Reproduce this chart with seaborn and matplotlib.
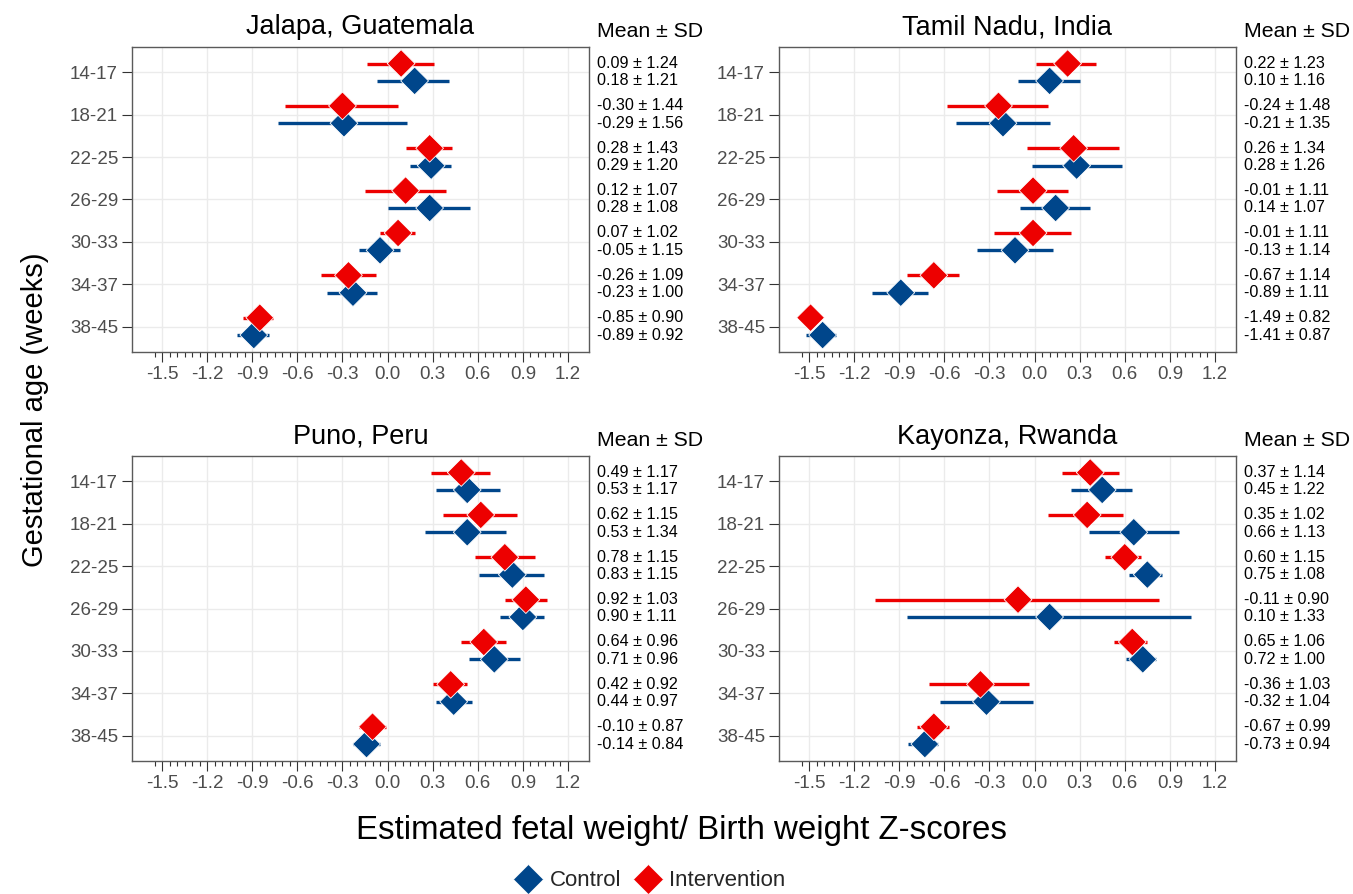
import numpy as np
import pandas as pd
import matplotlib
matplotlib.use("Agg")
import matplotlib.pyplot as plt
import matplotlib.transforms as mtransforms
from matplotlib.lines import Line2D
from matplotlib.ticker import FixedLocator
import seaborn as sns

sns.set_theme(style="white")
plt.rcParams["font.family"] = ["Liberation Sans", "DejaVu Sans"]

# ---------------- data ----------------
ages = ["14-17", "18-21", "22-25", "26-29", "30-33", "34-37", "38-45"]
sites = ["Jalapa, Guatemala", "Tamil Nadu, India", "Puno, Peru", "Kayonza, Rwanda"]
groups = ["Control", "Intervention"]

# Jalapa, Guatemala
jal_int_mean = [0.09, -0.30, 0.28, 0.12, 0.07, -0.26, -0.85]
jal_int_sd = [1.24, 1.44, 1.43, 1.07, 1.02, 1.09, 0.90]
jal_int_lo = [-0.14, -0.68, 0.12, -0.15, -0.05, -0.44, -0.96]
jal_int_hi = [0.31, 0.07, 0.43, 0.39, 0.18, -0.08, -0.76]
jal_ctl_mean = [0.18, -0.29, 0.29, 0.28, -0.05, -0.23, -0.89]
jal_ctl_sd = [1.21, 1.56, 1.20, 1.08, 1.15, 1.00, 0.92]
jal_ctl_lo = [-0.07, -0.73, 0.15, 0.00, -0.19, -0.40, -1.00]
jal_ctl_hi = [0.41, 0.13, 0.42, 0.55, 0.08, -0.07, -0.79]

# Tamil Nadu, India
tam_int_mean = [0.22, -0.24, 0.26, -0.01, -0.01, -0.67, -1.49]
tam_int_sd = [1.23, 1.48, 1.34, 1.11, 1.11, 1.14, 0.82]
tam_int_lo = [0.01, -0.58, -0.05, -0.25, -0.27, -0.85, -1.56]
tam_int_hi = [0.41, 0.09, 0.56, 0.22, 0.24, -0.50, -1.43]
tam_ctl_mean = [0.10, -0.21, 0.28, 0.14, -0.13, -0.89, -1.41]
tam_ctl_sd = [1.16, 1.35, 1.26, 1.07, 1.14, 1.11, 0.87]
tam_ctl_lo = [-0.11, -0.52, -0.02, -0.10, -0.38, -1.08, -1.52]
tam_ctl_hi = [0.30, 0.10, 0.58, 0.37, 0.12, -0.71, -1.32]

# Puno, Peru
pun_int_mean = [0.49, 0.62, 0.78, 0.92, 0.64, 0.42, -0.10]
pun_int_sd = [1.17, 1.15, 1.15, 1.03, 0.96, 0.92, 0.87]
pun_int_lo = [0.29, 0.37, 0.58, 0.78, 0.49, 0.30, -0.19]
pun_int_hi = [0.68, 0.86, 0.98, 1.06, 0.79, 0.53, -0.01]
pun_ctl_mean = [0.53, 0.53, 0.83, 0.90, 0.71, 0.44, -0.14]
pun_ctl_sd = [1.17, 1.34, 1.15, 1.11, 0.96, 0.97, 0.84]
pun_ctl_lo = [0.32, 0.25, 0.61, 0.75, 0.54, 0.32, -0.23]
pun_ctl_hi = [0.75, 0.79, 1.04, 1.04, 0.88, 0.56, -0.05]

# Kayonza, Rwanda
kay_int_mean = [0.37, 0.35, 0.60, -0.11, 0.65, -0.36, -0.67]
kay_int_sd = [1.14, 1.02, 1.15, 0.90, 1.06, 1.03, 0.99]
kay_int_lo = [0.18, 0.09, 0.47, -1.06, 0.53, -0.70, -0.78]
kay_int_hi = [0.56, 0.59, 0.71, 0.83, 0.75, -0.04, -0.57]
kay_ctl_mean = [0.45, 0.66, 0.75, 0.10, 0.72, -0.32, -0.73]
kay_ctl_sd = [1.22, 1.13, 1.08, 1.33, 1.00, 1.04, 0.94]
kay_ctl_lo = [0.24, 0.36, 0.63, -0.85, 0.61, -0.63, -0.84]
kay_ctl_hi = [0.65, 0.96, 0.85, 1.04, 0.81, -0.01, -0.64]

x_major = [-1.5, -1.2, -0.9, -0.6, -0.3, 0.0, 0.3, 0.6, 0.9, 1.2]
x_labels = ["-1.5", "-1.2", "-0.9", "-0.6", "-0.3", "0.0", "0.3", "0.6", "0.9", "1.2"]

site_data = {
    sites[0]: (jal_ctl_mean, jal_ctl_sd, jal_ctl_lo, jal_ctl_hi, jal_int_mean, jal_int_sd, jal_int_lo, jal_int_hi),
    sites[1]: (tam_ctl_mean, tam_ctl_sd, tam_ctl_lo, tam_ctl_hi, tam_int_mean, tam_int_sd, tam_int_lo, tam_int_hi),
    sites[2]: (pun_ctl_mean, pun_ctl_sd, pun_ctl_lo, pun_ctl_hi, pun_int_mean, pun_int_sd, pun_int_lo, pun_int_hi),
    sites[3]: (kay_ctl_mean, kay_ctl_sd, kay_ctl_lo, kay_ctl_hi, kay_int_mean, kay_int_sd, kay_int_lo, kay_int_hi),
}

rows = []
for s, (cm, cs, cl, ch, im, isd, il, ih) in site_data.items():
    for g, m, sd, lo, hi in (("Control", cm, cs, cl, ch), ("Intervention", im, isd, il, ih)):
        for k, a in enumerate(ages):
            rows.append(dict(site=s, group=g, age=a, idx=k, mean=m[k], sd=sd[k], lo=lo[k], hi=hi[k]))
df = pd.DataFrame(rows)
offset = {"Control": 0.2, "Intervention": -0.21}
df["ypos"] = df["idx"] + df["group"].map(offset)

palette = {"Control": "#00468B", "Intervention": "#ED0000"}

# ---------------- figure ----------------
W, H = 1353, 894
fig = plt.figure(figsize=(W / 100, H / 100), dpi=100)

boxes = {
    sites[0]: (132, 47, 589, 352),
    sites[1]: (779, 47, 1236, 352),
    sites[2]: (132, 456, 589, 761),
    sites[3]: (779, 456, 1236, 761),
}

tick_col = "#4D4D4D"
for s in sites:
    l, t, r, b = boxes[s]
    ax = fig.add_axes([l / W, 1 - b / H, (r - l) / W, (b - t) / H])
    d = df[df.site == s]
    ax.set_xlim(-1.70, 1.34)
    ax.set_ylim(6.6, -0.6)
    ax.grid(True, color="#EBEBEB", lw=1.0, zorder=0)
    ax.set_axisbelow(True)
    for g in groups:
        dg = d[d.group == g]
        ax.hlines(dg["ypos"], dg["lo"], dg["hi"], colors=palette[g], lw=2.4, zorder=2)
    sns.scatterplot(data=d, x="mean", y="ypos", hue="group", hue_order=groups,
                    palette=palette, marker="D", s=200, linewidth=0.6,
                    edgecolor="white", legend=False, ax=ax, zorder=3)
    ax.set_xlabel("")
    ax.set_ylabel("")
    ax.set_yticks(range(len(ages)))
    ax.set_yticklabels(ages)
    ax.xaxis.set_major_locator(FixedLocator(x_major))
    ax.set_xticklabels(x_labels)
    ax.xaxis.set_minor_locator(FixedLocator(np.round(np.arange(-1.55, 1.201, 0.05), 2)))
    ax.tick_params(axis="both", which="major", length=7, width=0.8, color="#333333",
                   labelsize=13.5, labelcolor=tick_col, pad=3, left=True, bottom=True)
    ax.tick_params(axis="x", which="minor", length=3.5, width=0.8, color="#333333", bottom=True)
    for sp in ax.spines.values():
        sp.set_color("#5A5A5A")
        sp.set_linewidth(1.0)
    ax.set_title(s, fontsize=19.5, pad=9, color="black")

    trans = mtransforms.blended_transform_factory(ax.transAxes, ax.transData)
    for _, row in d.iterrows():
        ax.text(1.0175, row["ypos"], f"{row['mean']:.2f} \u00b1 {row['sd']:.2f}",
                transform=trans, ha="left", va="center", fontsize=11.6,
                color="black", clip_on=False)
    ax.text(1.0175, 1.052, "Mean \u00b1 SD", transform=ax.transAxes, ha="left",
            va="center", fontsize=15.3, color="black", clip_on=False)

fig.text(681 / W, 1 - 830 / H, "Estimated fetal weight/ Birth weight Z-scores",
         ha="center", va="center", fontsize=23.8, color="black")
fig.text(35 / W, 1 - 410 / H, "Gestational age (weeks)", rotation=90,
         ha="center", va="center", fontsize=21, color="black")

handles = [Line2D([0], [0], marker="D", linestyle="none", markersize=15,
                  markerfacecolor=palette[g], markeredgecolor="white",
                  markeredgewidth=0.5, label=g) for g in groups]
fig.legend(handles=handles, loc="center", bbox_to_anchor=(650 / W, 1 - 881 / H),
           ncol=2, frameon=False, fontsize=16, handletextpad=0.35,
           columnspacing=0.6, handlelength=1.2)

fig.savefig("out.png", dpi=100)
